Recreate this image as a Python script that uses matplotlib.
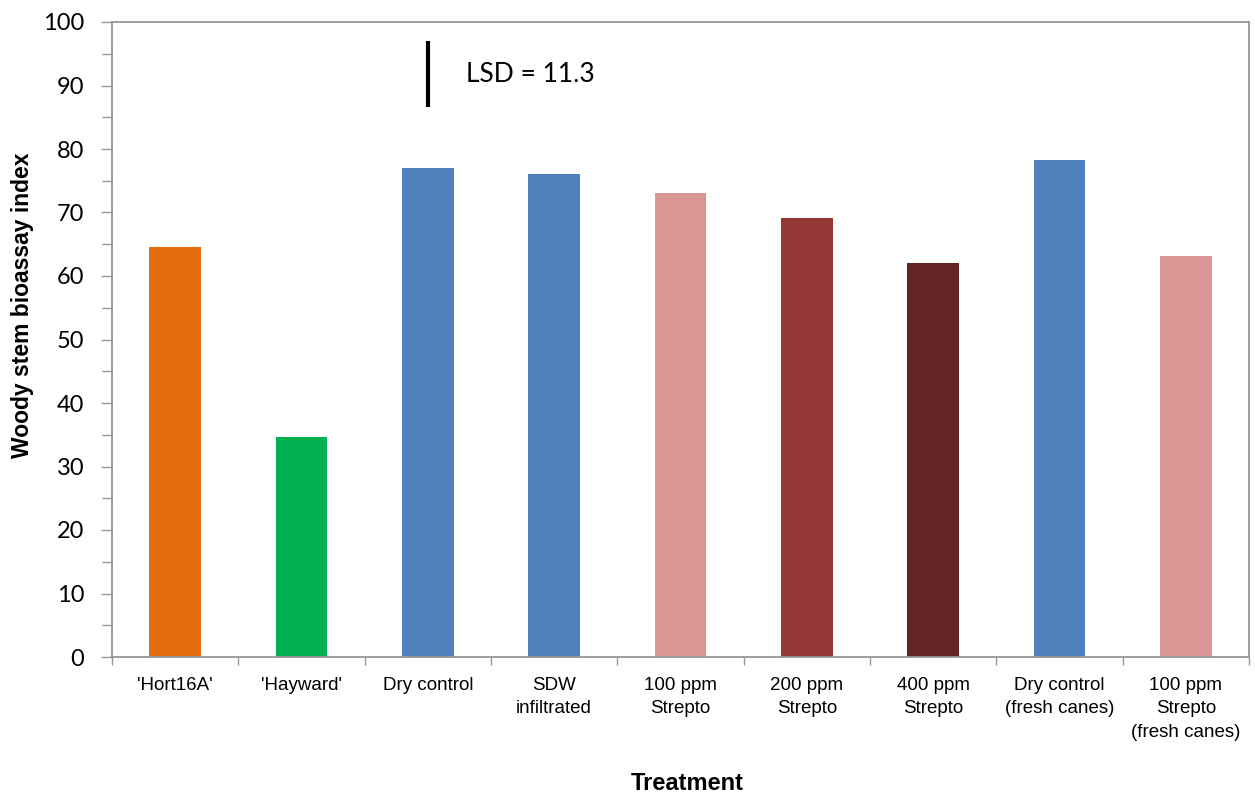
import matplotlib
matplotlib.use("Agg")
import matplotlib.pyplot as plt

categories = ["'Hort16A'", "'Hayward'", "Dry control", "SDW\ninfiltrated",
              "100 ppm\nStrepto", "200 ppm\nStrepto", "400 ppm\nStrepto",
              "Dry control\n(fresh canes)", "100 ppm\nStrepto\n(fresh canes)"]
values = [64.6, 34.6, 77.0, 76.0, 73.1, 69.1, 62.1, 78.2, 63.2]
colors = ["#E46C0A", "#00B050", "#4F81BD", "#4F81BD", "#D99694",
          "#953735", "#632523", "#4F81BD", "#D99694"]
lsd_value = 11.3
lsd_top = 97.0
yticks = list(range(0, 101, 10))

fig = plt.figure(figsize=(12.55, 7.95), dpi=100)
ax = fig.add_axes([112/1255, 1-657/795, (1249-112)/1255, (657-22)/795])

x = list(range(len(categories)))
ax.bar(x, values, width=0.41, color=colors, zorder=2)

ax.set_xlim(-0.5, len(categories) - 0.5)
ax.set_ylim(0, 100)
ax.set_yticks(yticks)
ax.set_yticks(list(range(5, 100, 10)), minor=True)
ax.set_yticklabels([str(t) for t in yticks], fontfamily="Lato", fontsize=17)
ax.set_xticks([i - 0.5 for i in range(len(categories) + 1)])
ax.set_xticklabels([])
for i, lab in enumerate(categories):
    ax.text(i, -3.1, lab, ha="center", va="top", fontsize=13.5,
            fontfamily="Liberation Sans", linespacing=1.5,
            transform=ax.transData)

for s in ax.spines.values():
    s.set_color("#969696")
    s.set_linewidth(1.3)
ax.tick_params(axis="both", which="both", color="#969696", width=1.0,
               direction="out")
ax.tick_params(axis="y", which="major", length=8, pad=12)
ax.tick_params(axis="y", which="minor", length=7)
ax.tick_params(axis="x", which="major", length=6)

# LSD bar
ax.plot([2, 2], [lsd_top - lsd_value * 0.92, lsd_top], color="black", lw=3,
        solid_capstyle="butt", zorder=3)
ax.text(2.3, 91.7, f"LSD = {lsd_value}", ha="left", va="center",
        fontfamily="Lato", fontsize=19)

fig.text(23/1255, 1 - 305/795, "Woody stem bioassay index", rotation=90,
         ha="center", va="center", fontsize=16.5, fontweight="bold",
         fontfamily="Liberation Sans")
fig.text(687/1255, 1 - 784/795, "Treatment", ha="center", va="center",
         fontsize=17, fontweight="bold", fontfamily="Liberation Sans")

fig.savefig("out.png", dpi=100)
